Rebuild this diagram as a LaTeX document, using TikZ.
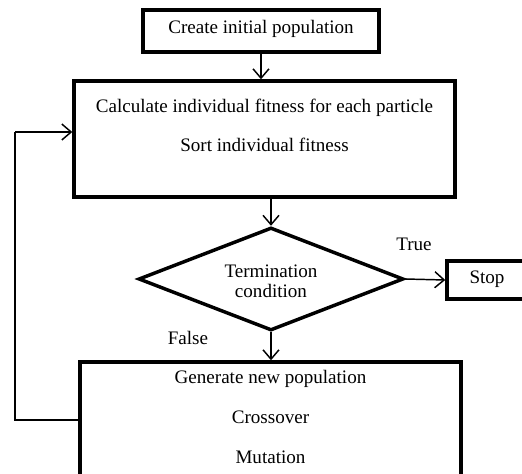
\documentclass[tikz,border=0pt]{standalone}
\usepackage{fontspec}
\setmainfont{Liberation Serif}
\usetikzlibrary{shapes.geometric,arrows.meta}
\begin{document}
\begin{tikzpicture}[x=0.75pt,y=-0.75pt,
  box/.style={draw,line width=2.6pt,rectangle,inner sep=0pt},
  txt/.style={inner sep=0pt,font=\fontsize{14.3}{16}\selectfont},
  conn/.style={line width=1.1pt,-{Straight Barb[length=7pt,width=12pt]}},
  line/.style={line width=1.1pt}]
\useasboundingbox (0,0) rectangle (522,474);
\node[box,minimum width=177pt,minimum height=31.5pt] (top) at (261,31) {};
\node[txt] (toptxt) at (261,29) {Create initial population};
\node[box,minimum width=285.75pt,minimum height=87pt] (calc) at (264.5,139) {};
\node[txt] (c1) at (264.5,108) {Calculate individual fitness for each particle};
\node[txt] (c2) at (264.5,145) {Sort individual fitness};
\node[draw,line width=2.6pt,diamond,aspect=2.57,minimum width=198.75pt,minimum height=77.25pt,inner sep=0pt] (dia) at (271,279) {};
\node[txt,align=center] (dtxt) at (271,281) {Termination\\[-1pt]condition};
\node[box,minimum width=82.5pt,minimum height=28.5pt] (stop) at (502,280) {};
\node[txt] (stoptxt) at (487,279) {Stop};
\node[txt] (true) at (414,244) {True};
\node[txt] (false) at (188,338) {False};
\node[box,minimum width=285.75pt,minimum height=87pt] (gen) at (270.5,420) {};
\node[txt] (g1) at (270.5,379) {Generate new population};
\node[txt] (g2) at (270.5,417) {Crossover};
\node[txt] (g3) at (270.5,457) {Mutation};
\coordinate (fb) at (15,132);
\draw[conn] (top.south) -- (top.south |- calc.north);
\draw[conn] (dia.north |- calc.south) -- (dia.north);
\draw[conn] (dia.south) -- (dia.south |- gen.north);
\draw[conn] (dia.east) -- (stop.west);
\draw[line] (gen.west) -| (fb);
\draw[conn] (fb) -- (fb -| calc.west);
\end{tikzpicture}
\end{document}
